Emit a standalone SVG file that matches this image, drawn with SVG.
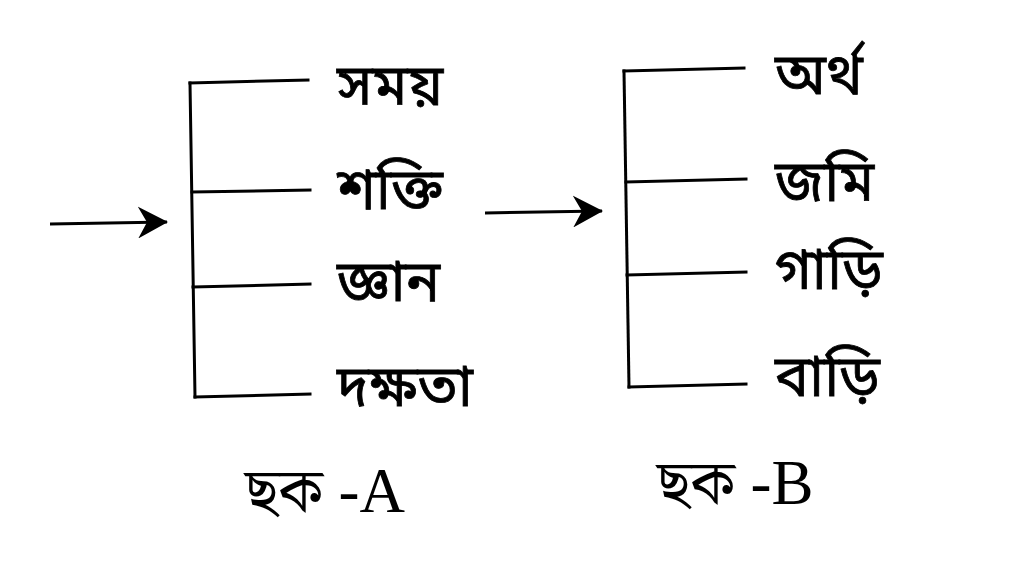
<svg xmlns="http://www.w3.org/2000/svg" width="1024" height="567" viewBox="0 0 1024 567">
<defs>
<style>
.ln{stroke:#000;stroke-width:3;fill:none;stroke-linecap:square}
.ar{stroke:#000;stroke-width:3;fill:none}
.lb{font-family:"Noto Sans Bengali","Noto Sans","DejaVu Sans",sans-serif;font-size:57px;font-weight:normal;fill:#000;stroke:#000;stroke-width:0.8}
.cap{font-family:"Liberation Serif","Noto Serif Bengali","Noto Sans Bengali",serif;font-size:63px;fill:#000}
</style>
<marker id="ah" viewBox="0 0 30 32" refX="29" refY="16" markerWidth="30" markerHeight="32" markerUnits="userSpaceOnUse" orient="auto">
<path d="M0,0 L30,16 L0,32 L9,16 Z" fill="#000"/>
</marker>
</defs>
<g id="connectors">
<path class="ar" d="M50,224 L167,222" marker-end="url(#ah)"/>
<path class="ar" d="M485,213 L602,211" marker-end="url(#ah)"/>
</g>
<g id="bracket-A">
<path class="ln" d="M190,83 L195,397"/>
<path class="ln" d="M190,83 L308,80"/>
<path class="ln" d="M192,192 L310,190"/>
<path class="ln" d="M193,287 L310,284"/>
<path class="ln" d="M195,397 L310,394"/>
</g>
<g id="bracket-B">
<path class="ln" d="M624,71 L629,387"/>
<path class="ln" d="M624,71 L744,68"/>
<path class="ln" d="M626,182 L746,179"/>
<path class="ln" d="M627,275 L746,272"/>
<path class="ln" d="M629,387 L746,384"/>
</g>
<g id="node-a1"><text class="lb" x="337" y="105">সময়</text></g>
<g id="node-a2"><text class="lb" x="337" y="209">শক্তি</text></g>
<g id="node-a3"><text class="lb" x="337" y="301">জ্ঞান</text></g>
<g id="node-a4"><text class="lb" x="337" y="406">দক্ষতা</text></g>
<g id="node-b1"><text class="lb" x="775" y="94">অর্থ</text></g>
<g id="node-b2"><text class="lb" x="775" y="201">জমি</text></g>
<g id="node-b3"><text class="lb" x="775" y="289">গাড়ি</text></g>
<g id="node-b4"><text class="lb" x="775" y="396">বাড়ি</text></g>
<g id="caption-A"><text class="cap" x="245" y="512">ছক -A</text></g>
<g id="caption-B"><text class="cap" x="657" y="504">ছক -B</text></g>
</svg>
